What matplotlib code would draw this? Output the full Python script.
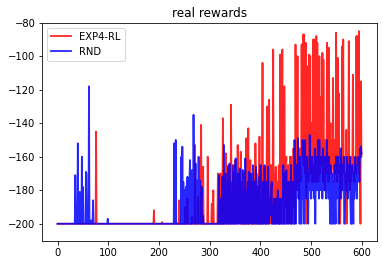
import matplotlib
matplotlib.use('Agg')
import matplotlib.pyplot as plt
import numpy as np

# real rewards per episode
exp4_rl = (
    [-200] * 76 + [-145] + [-200] * 113 + [-192] + [-200] * 15 + [-199] + [-200] * 23 +
    [-200, -200, -200, -200, -200, -200, -200, -200, -200, -200,
     -186, -200, -200, -200, -200, -200, -200, -200, -200, -200,
     -200, -200, -190, -200, -200, -200, -185, -200, -200, -200,
     -200, -200, -200, -200, -200, -196, -200, -200, -200, -200,
     -200, -153, -200, -200, -200, -200, -200, -184, -200, -200,
     -200, -200, -200, -141, -200, -200, -200, -166, -200, -200,
     -200, -200, -200, -200, -200, -200, -160, -200, -200, -200,
     -200, -200, -200, -200, -188, -200, -200, -180, -200, -200,
     -200, -200, -200, -200, -200, -200, -170, -200, -200, -200,
     -200, -170, -200, -185, -200, -175, -137, -200, -190, -170,
     -200, -185, -158, -200, -175, -190, -200, -165, -200, -195,
     -180, -200, -129, -200, -165, -185, -200, -170, -200, -190,
     -162, -200, -175, -185, -200, -153, -190, -200, -170, -185,
     -200, -157, -185, -200, -168, -200, -180, -185, -200, -170,
     -190, -200, -149, -185, -200, -170, -143, -200, -180, -190,
     -162, -200, -185, -175, -200, -190, -178, -200, -170, -200,
     -152, -185, -200, -175, -190, -200, -170, -185, -148, -200,
     -185, -165, -200, -170, -104, -200, -175, -190, -166, -200,
     -180, -200, -170, -130, -185, -200, -165, -126, -200, -165,
     -190, -175, -200, -165, -180, -96, -200, -170, -185, -200,
     -166, -200, -185, -175, -200, -181, -165, -200, -190, -99,
     -175, -200, -165, -96, -185, -170, -200, -118, -175, -190,
     -165, -160, -200, -175, -179, -165, -200, -185, -160, -175,
     -160, -200, -175, -165, -185, -155, -190, -170, -200, -93,
     -165, -180, -150, -100, -175, -160, -185, -155, -165, -170,
     -175, -93, -160, -150, -87, -165, -87, -140, -170, -92,
     -200, -165, -106, -150, -127, -175, -99, -160, -100, -170,
     -140, -160, -175, -150, -90, -175, -90, -160, -140, -175,
     -88, -170, -92, -150, -175, -160, -100, -170, -127, -150,
     -124, -165, -98, -175, -102, -160, -150, -180, -165, -150,
     -170, -92, -160, -104, -175, -95, -165, -150, -140, -170,
     -165, -150, -160, -113, -175, -150, -170, -160, -170, -86,
     -150, -175, -101, -160, -122, -170, -165, -200, -175, -160,
     -180, -94, -150, -90, -170, -165, -160, -175, -180, -144,
     -200, -165, -175, -160, -91, -170, -180, -165, -175, -160,
     -170, -165, -111, -160, -170, -175, -165, -160, -170, -88,
     -150, -88, -165, -160, -85, -170, -160, -200, -115, -160]
)

rnd = (
    [-200] * 35 +
    [-171, -200, -200, -200, -200, -152, -200, -200, -200, -181,
     -200, -200, -200, -160, -200, -178, -200, -200, -200, -200,
     -200, -169, -170, -200, -200, -200, -200, -118, -200, -200,
     -200, -198, -200, -200, -200, -186] +
    [-200] * 28 + [-197] + [-200] * 130 +
    [-152, -200, -200, -150, -200, -200, -200, -200, -200, -200,
     -200, -200, -200, -200, -160, -200, -154, -200, -175, -200,
     -180, -200, -200, -178, -200, -190, -172, -200, -185, -200,
     -175, -162, -200, -185, -200, -168, -190, -200, -135, -175,
     -200, -185, -164, -200, -174, -200, -180, -195, -160, -200,
     -185, -174, -200, -190, -178, -200, -200, -195, -200, -200,
     -200, -200, -200, -200, -200, -200, -200, -200, -200, -200,
     -200, -200, -200, -200, -200, -200, -200, -200, -200, -200,
     -200, -200, -200, -200, -200, -200, -200, -200, -171, -200,
     -200, -200, -185, -200, -200, -172, -200, -200, -153, -200,
     -185, -170, -200, -190, -200, -180, -166, -200, -185, -164,
     -200, -175, -200, -185, -190, -200, -170, -165, -200, -185,
     -200, -161, -190, -200, -185, -170, -200, -195, -180, -167,
     -200, -185, -175, -200, -190, -168, -200, -200, -185, -200,
     -161, -200, -180, -190, -200, -175, -200, -169, -200, -185,
     -190, -170, -200, -180, -200, -165, -200, -190, -175, -185,
     -200, -166, -185, -200, -178, -200, -190, -200, -172, -200,
     -165, -200, -190, -185, -200, -175, -200, -195, -165, -200,
     -185, -175, -200, -190, -200, -166, -185, -200, -185, -195,
     -195, -180, -175, -200, -190, -200, -190, -185, -200, -195,
     -185, -200, -190, -195, -180, -200, -195, -200, -185, -200,
     -195, -185, -200, -185, -200, -165, -190, -200, -170, -200,
     -180, -168, -200, -185, -175, -200, -175, -190, -180, -200,
     -165, -200, -185, -175, -200, -180, -200, -150, -175, -185,
     -200, -165, -180, -175, -149, -185, -170, -200, -160, -180,
     -200, -200, -175, -150, -185, -165, -200, -170, -150, -180,
     -165, -185, -160, -175, -200, -170, -180, -147, -175, -165,
     -185, -170, -160, -180, -165, -175, -185, -155, -200, -165,
     -175, -160, -180, -150, -170, -185, -150, -175, -165, -180,
     -160, -170, -185, -155, -175, -165, -180, -160, -175, -185,
     -165, -150, -180, -170, -185, -160, -175, -200, -165, -180,
     -200, -170, -200, -185, -175, -200, -165, -180, -200, -160,
     -185, -170, -175, -160, -200, -180, -165, -175, -155, -185,
     -170, -180, -165, -175, -160, -200, -200, -185, -170, -180,
     -160, -175, -185, -165, -180, -170, -160, -185, -200, -175,
     -200, -165, -180, -200, -170, -185, -175, -160, -180, -170,
     -185, -165, -175, -160, -170, -175, -155, -160, -154, -158]
)

episodes = np.arange(len(exp4_rl))

fig = plt.figure(figsize=(383 / 72, 264 / 72), dpi=72)
ax = fig.add_subplot(111)
fig.subplots_adjust(left=0.1105, right=0.9835, bottom=0.089, top=0.914)

ax.plot(episodes, exp4_rl, color='r', alpha=0.85, linewidth=1.8, label='EXP4-RL')
ax.plot(np.arange(len(rnd)), rnd, color='b', alpha=0.85, linewidth=1.8, label='RND')
ax.set_ylim(-210, -80)
ax.set_title('real rewards')
ax.legend(loc='upper left')

fig.savefig('out.png', dpi=72)
